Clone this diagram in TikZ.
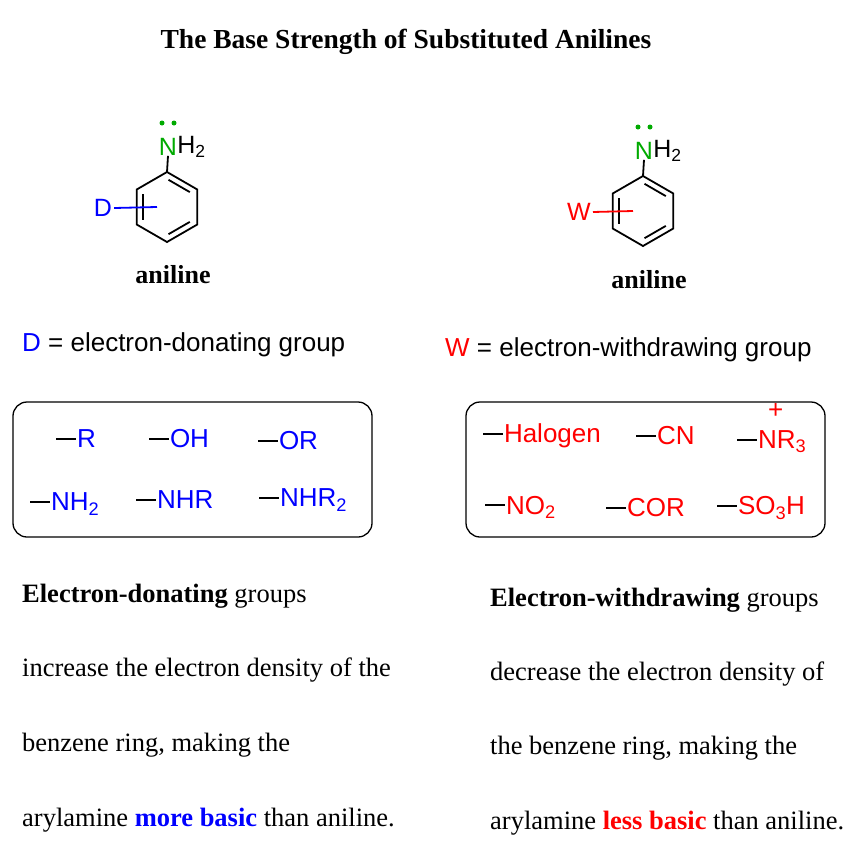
\documentclass[tikz,border=0pt]{standalone}
\usepackage{fontspec}
\setmainfont{Liberation Serif}
\setsansfont{Liberation Sans}
\usetikzlibrary{positioning}
\definecolor{dgreen}{RGB}{0,170,0}
\newcommand{\bnd}{\textcolor{black}{\rule[0.3em]{0.75em}{2.2pt}}\kern0.05em}
\begin{document}
\begin{tikzpicture}[x=1pt,y=-1pt,
		bond/.style={line width=1.8pt},
		atom/.style={font=\sffamily\fontsize{25}{28}\selectfont,inner sep=0pt},
		grp/.style={font=\sffamily\fontsize{26}{28}\selectfont,inner sep=0pt,anchor=west},
		para/.style={font=\fontsize{26.5}{30}\selectfont,anchor=west,inner sep=0pt},
		panel/.style={draw,line width=1.3pt,rounded corners=14pt}
		]
		\useasboundingbox (0,0) rectangle (852,849);
		\node[font=\bfseries\fontsize{27.5}{30}\selectfont] (title) at (406,42) {The Base Strength of Substituted Anilines};
		%Draw both anilines
		\foreach \cx/\cy/\sub/\col/\nm in {167/207/D/blue/d,643/211/W/red/w}{
			\begin{scope}[shift={(\cx,\cy)}]
				\coordinate (\nm top) at (0,-35);
				\draw[bond] (0,-35) -- (30.3,-17.5) -- (30.3,17.5) -- (0,35) -- (-30.3,17.5) -- (-30.3,-17.5) -- cycle;
				\draw[bond] (1.5,-27.2) -- (22.8,-14.9);
				\draw[bond] (22.8,14.9) -- (1.5,27.2);
				\draw[bond] (-24.3,-13) -- (-24.3,13);
				\node[atom,text=dgreen] (\nm N) at (1,-60) {N};
				\node[atom,anchor=west] (\nm H) at (\nm N.east) {H\textsubscript{2}};
				\fill[dgreen] (-5,-84) circle (2.5) (7,-84) circle (2.5);
				\draw[bond] (\nm top) -- (\nm N.south);
				\node[atom,text=\col] (\nm sub) at (-64,1) {\sub};
				\coordinate (\nm end) at (-10,0);
				\draw[bond,\col] (\nm sub.east) ++(2,0) -- (\nm end);
			\end{scope}
		}
		\node[font=\bfseries\fontsize{26}{30}\selectfont] (dname) at (173,275) {aniline};
		\node[font=\bfseries\fontsize{26}{30}\selectfont] (wname) at (649,280) {aniline};
		\node[grp] (dkey) at (22,345) {\textcolor{blue}{D} = electron-donating group};
		\node[grp] (wkey) at (445,350) {\textcolor{red}{W} = electron-withdrawing group};
		%Group boxes
		\draw[panel] (13,402) rectangle (372,537);
		\draw[panel] (466,402) rectangle (825,537);
		\begin{scope}[every node/.style={grp,text=blue}]
			\node (gR) at (56,439) {\bnd R};
			\node (gOH) at (149,439) {\bnd OH};
			\node (gOR) at (258,441) {\bnd OR};
			\node (gNH2) at (30,504) {\bnd NH\textsubscript{2}};
			\node (gNHR) at (136,500) {\bnd NHR};
			\node (gNHR2) at (259,500) {\bnd NHR\textsubscript{2}};
		\end{scope}
		\begin{scope}[every node/.style={grp,text=red}]
			\node (gX) at (483,436) {\bnd Halogen};
			\node (gCN) at (636,436) {\bnd CN};
			\node (gNR3) at (737,442) {\bnd NR\textsubscript{3}};
			\node[font=\sffamily\fontsize{26}{28}\selectfont] (gplus) at (768,411) {+};
			\node (gNO2) at (485,507) {\bnd NO\textsubscript{2}};
			\node (gCOR) at (606,508) {\bnd COR};
			\node (gSO3H) at (717,508) {\bnd SO\textsubscript{3}H};
		\end{scope}
		%Explanations
		\node[para] (d1) at (22,596) {\textbf{Electron-donating} groups};
		\node[para] (d2) at (22,670) {increase the electron density of the};
		\node[para] (d3) at (22,745) {benzene ring, making the};
		\node[para] (d4) at (22,820) {arylamine \textcolor{blue}{\textbf{more basic}} than aniline.};
		\node[para] (w1) at (490,600) {\textbf{Electron-withdrawing} groups};
		\node[para] (w2) at (490,674) {decrease the electron density of};
		\node[para] (w3) at (490,748) {the benzene ring, making the};
		\node[para] (w4) at (490,823) {arylamine \textcolor{red}{\textbf{less basic}} than aniline.};
	\end{tikzpicture}
\end{document}
